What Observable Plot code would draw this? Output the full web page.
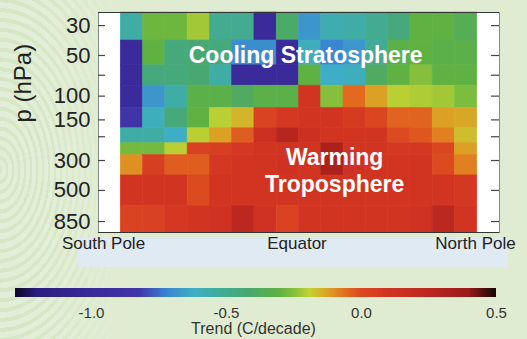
<!DOCTYPE html>
<html><head><meta charset="utf-8">
<script src="https://cdn.jsdelivr.net/npm/d3@7"></script>
<script src="https://cdn.jsdelivr.net/npm/@observablehq/plot@0.6"></script>
<style>
html,body{margin:0;padding:0;}
body{width:527px;height:339px;overflow:hidden;background:#e0ecd2;font-family:"Liberation Sans",Arial,Helvetica,sans-serif;}
#wrap{position:relative;width:527px;height:339px;}
#fp{position:absolute;left:0;top:0;width:170px;height:339px;
 background:repeating-radial-gradient(ellipse 140px 230px at 0px 170px,#d5e7c5 0 2.5px,#e3eed8 2.5px 6px);
 -webkit-mask-image:linear-gradient(to right,#000 0,#000 45px,transparent 115px);
 mask-image:linear-gradient(to right,#000 0,#000 45px,transparent 115px);}
#band{position:absolute;left:78px;top:238px;width:430px;height:29px;background:#dfeaf3;}
#chart,#legend{position:relative;z-index:1;}
#chart svg,#legend svg{display:block;}
#ctitle{position:absolute;left:0;top:321px;width:507px;text-align:center;font-size:16px;line-height:16px;color:#333;z-index:1;}
</style></head>
<body><div id="wrap"><div id="fp"></div><div id="band"></div><div id="chart"></div><div id="legend"></div><div id="ctitle">Trend (C/decade)</div></div>
<script>
// ---- data ----
const levels = [30, 50, 70, 100, 150, 200, 250, 300, 500, 850];            // hPa
const lats = [-75, -65, -55, -45, -35, -25, -15, -5, 5, 15, 25, 35, 45, 55, 65, 75];
const t30  = [-0.55,-0.28,-0.28,-0.22,-0.50,-0.50,-1.00,-0.40,-0.68,-0.57,-0.55,-0.50,-0.45,-0.30,-0.30,-0.35];
const t50  = [-1.00,-0.30,-0.45,-0.43,-0.45,-0.70,-0.70,-1.00,-0.60,-0.72,-0.68,-0.52,-0.32,-0.30,-0.32,-0.32];
const t70  = [-1.00,-0.45,-0.45,-0.42,-0.55,-1.00,-1.00,-1.00,-0.30,-0.62,-0.60,-0.38,-0.30,-0.25,-0.30,-0.30];
const t100 = [-1.00,-0.68,-0.55,-0.32,-0.32,-0.38,-0.32,-0.32, 0.10,-0.25,-0.05,-0.12,-0.20,-0.21,-0.22,-0.26];
const t150 = [-0.85,-0.60,-0.45,-0.30,-0.20,-0.15, 0.03, 0.08, 0.10, 0.10, 0.07, 0.02,-0.04,-0.04,-0.12,-0.13];
const t200 = [-0.55,-0.55,-0.62,-0.20,-0.12,-0.03, 0.15, 0.28, 0.15, 0.10, 0.10, 0.10, 0.00,-0.02,-0.08,-0.16];
const t250 = [-0.27,-0.27,-0.20, 0.04, 0.05, 0.08, 0.10, 0.10, 0.10, 0.32, 0.10, 0.10, 0.08, 0.08, 0.02,-0.12];
const t300 = [-0.10, 0.05,-0.03,-0.03, 0.08, 0.10, 0.10, 0.12, 0.10, 0.32, 0.12, 0.10, 0.10, 0.10, 0.00,-0.08];
const t500 = [ 0.10, 0.10, 0.10, 0.00, 0.10, 0.10, 0.10, 0.10, 0.10, 0.10, 0.10, 0.10, 0.10, 0.10, 0.10, 0.08];
const t850 = [ 0.03, 0.04, 0.08, 0.10, 0.12, 0.25, 0.12, 0.03, 0.10, 0.10, 0.10, 0.10, 0.10, 0.12, 0.25, 0.10];
const trendRows = [t30, t50, t70, t100, t150, t200, t250, t300, t500, t850];

const yTicks = [30, 50, 70, 100, 150, 200, 300, 500, 850];
const yLabels = [30, 50, 100, 150, 300, 500, 850];
const xLabels = ["South Pole", "Equator", "North Pole"];
const xLabelLats = [-90, 0, 90];
const barTicks = [-1.0, -0.5, 0.0, 0.5];
const regionLabels = ["Cooling Stratosphere", "Warming\nTroposphere"];
const regionLats = [3, 16];
const regionP = [49, 352];
const cStops  = [-1.28, -1.2, -1.0, -0.82, -0.72, -0.62, -0.52, -0.42, -0.3, -0.24, -0.19, -0.12, -0.06, 0.0, 0.1, 0.25, 0.4, 0.5];
const cColors = ["#100828","#2c1e80","#3a2a9a","#4236aa","#3a86d0","#3eaec6","#40ac98","#48a870","#5fb242","#8cc23a","#c4d232","#dca024","#e2701e","#dc4a20","#d23422","#bc2820","#9c1a18","#1a0606"];

// ---- build ----
const FONT = '"Liberation Sans", Arial, Helvetica, sans-serif';
const pTop = 24, pBottom = 1025, latMin = -90, latMax = 90, half = 5;
const edges = [pTop, ...levels.slice(1).map((p, i) => Math.sqrt(levels[i] * p)), pBottom];
const cells = [];
levels.forEach((p, i) => lats.forEach((lat, j) => cells.push({
  lat, p, v: trendRows[i][j], x1: lat - half, x2: lat + half, y1: edges[i], y2: edges[i + 1]
})));
const regions = regionLabels.map((label, i) => ({label, lat: regionLats[i], p: regionP[i]}));

const ramp = d3.scaleLinear().domain(cStops).range(cColors).interpolate(d3.interpolateRgb).clamp(true);
const cDomain = [cStops[0], cStops[cStops.length - 1]];
const colorOpts = {type: "linear", domain: cDomain, interpolate: t => ramp(cDomain[0] + t * (cDomain[1] - cDomain[0]))};

const W = 527, H = 272, mL = 98, mR = 28, mT = 12, mB = 40;
const frameW = W - mL - mR;
const xLabelDx = [5, -2, -24];

const chart = Plot.plot({
  width: W, height: H, marginLeft: mL, marginRight: mR, marginTop: mT, marginBottom: mB,
  style: {background: "transparent", fontFamily: FONT, color: "#222", overflow: "visible"},
  x: {domain: [latMin, latMax], axis: null},
  y: {type: "log", domain: [pTop, pBottom], reverse: true, axis: null},
  color: colorOpts,
  marks: [
    Plot.frame({fill: "white", stroke: "#888"}),
    Plot.rect(cells, {x1: "x1", x2: "x2", y1: "y1", y2: "y2", fill: "v", stroke: "v", strokeWidth: 0.6}),
    Plot.ruleY([pTop, pBottom], {stroke: "#333", strokeWidth: 1.2}),
    Plot.tickY(yTicks, {y: d => d, insetRight: frameW - 7, stroke: "#444", strokeWidth: 1.2}),
    Plot.tickY(yTicks, {y: d => d, insetLeft: frameW - 8, stroke: "#444", strokeWidth: 1.2}),
    Plot.text(yLabels, {y: d => d, text: d => `${d}`, frameAnchor: "left", textAnchor: "end", dx: -8, fontSize: 22, fill: "#222"}),
    Plot.text(["p (hPa)"], {frameAnchor: "left", dx: -75, rotate: -90, fontSize: 24, fill: "#222"}),
    ...xLabels.map((name, i) => Plot.text([{name, lat: xLabelLats[i]}], {
      x: "lat", text: "name", frameAnchor: "bottom", dy: 16, dx: xLabelDx[i], fontSize: 17, fill: "#222"
    })),
    Plot.text(regions, {x: "lat", y: "p", text: "label", fill: "white", fontSize: 23, fontWeight: "bold", lineHeight: 1.16})
  ]
});
document.getElementById("chart").append(chart);

const legend = Plot.legend({
  color: colorOpts, width: W, height: 49, marginTop: 16, marginBottom: 24, marginLeft: 15, marginRight: 31,
  tickSize: 7, ticks: barTicks, tickFormat: d => d.toFixed(1), label: null,
  style: {background: "transparent", color: "#333", fontSize: "15px", fontFamily: FONT}
});
d3.select(legend).selectAll(".tick line").remove();
d3.select(legend).selectAll("text").attr("font-size", 15);
document.getElementById("legend").append(legend);
</script></body></html>
